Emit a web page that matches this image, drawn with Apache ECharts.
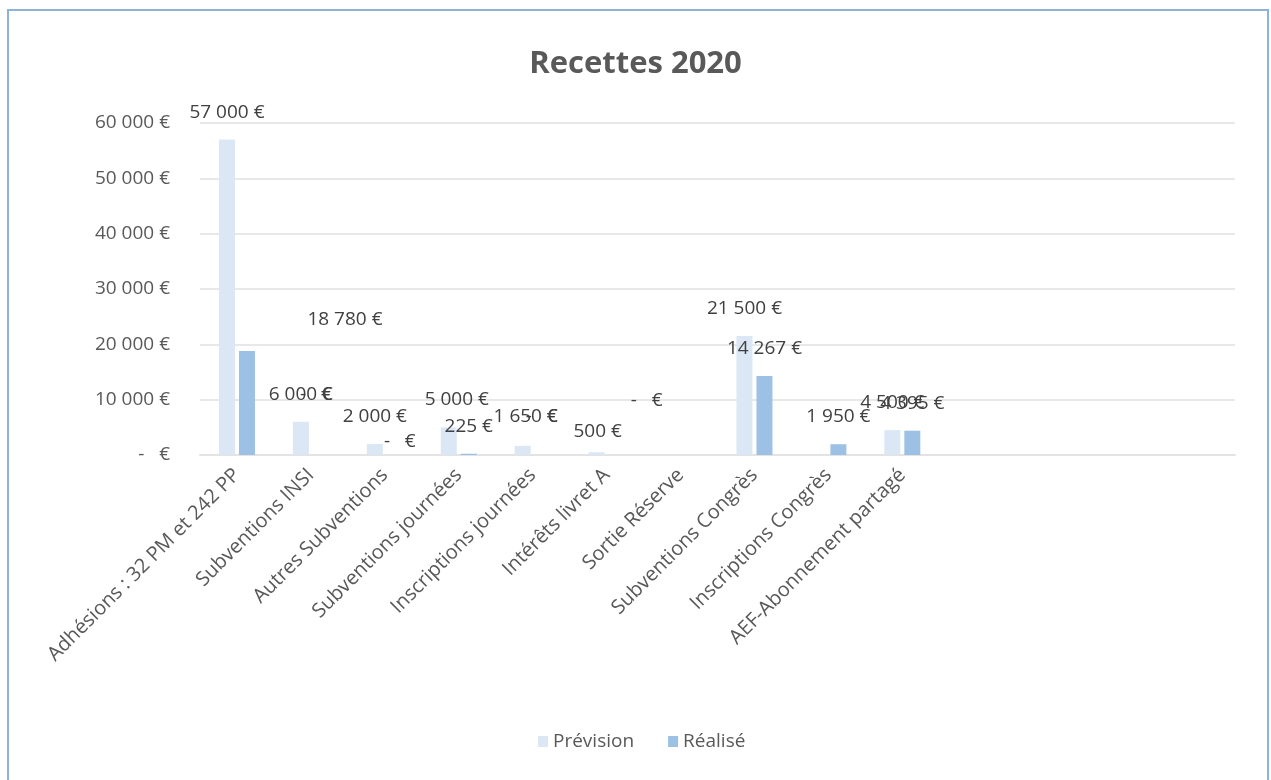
<!DOCTYPE html>
<html>
<head>
<meta charset="utf-8">
<title>Recettes 2020</title>
<script src="https://cdn.jsdelivr.net/npm/echarts@6/dist/echarts.min.js"></script>
<style>
  html, body { margin: 0; padding: 0; background: #fff; }
  #main { width: 1271px; height: 780px; }
</style>
</head>
<body>
<div id="main"></div>
<script>
// categories (the last four slots are empty in the original sheet)
const categories = [
  "Adhésions : 32 PM et 242 PP",
  "Subventions INSI",
  "Autres Subventions",
  "Subventions journées",
  "Inscriptions journées",
  "Intérêts livret A",
  "Sortie Réserve",
  "Subventions Congrès",
  "Inscriptions Congrès",
  "AEF-Abonnement partagé",
  "", "", "", ""
];
const prevision = [57000, 6000, 2000, 5000, 1650, 500, null, 21500, null, 4500, null, null, null, null];
const realise = [18780, 0, 0, 225, 0, 0, null, 14267, 1950, 4395, null, null, null, null];
const yTicks = [0, 10000, 20000, 30000, 40000, 50000, 60000];

const FONT = "Open Sans";
const TXT = "#595959";

// "57 000 €" / "-   €"
function euro(v) {
  if (v === 0) return "-   €";
  return String(Math.round(v)).replace(/\B(?=(\d{3})+(?!\d))/g, " ") + " €";
}

// labels were dragged around by hand in the sheet
const shiftPrev = { 3: [8, 0], 4: [3, -2], 5: [1, 7] };
const shiftReal = { 0: [98, -4], 1: [-5, -33], 2: [5, 14], 4: [-1, -11], 5: [30, -27] };

function items(values, shifts) {
  return values.map(function (v, i) {
    if (!shifts[i]) return v;
    return { value: v, label: { offset: shifts[i] } };
  });
}

const chart = echarts.init(document.getElementById("main"));

const labelStyle = {
  show: true,
  position: "top",
  distance: 18,
  fontFamily: FONT,
  fontSize: 19,
  color: "#404040",
  formatter: function (p) { return euro(p.value); }
};

const option = {
  animation: false,
  textStyle: { fontFamily: FONT },
  title: {
    text: "Recettes 2020",
    left: "center",
    top: 44,
    textStyle: { fontFamily: FONT, fontSize: 31, fontWeight: "bold", color: TXT }
  },
  legend: {
    left: 533,
    top: 727,
    itemWidth: 10,
    itemHeight: 11,
    itemGap: 34,
    icon: "rect",
    textStyle: { fontFamily: FONT, fontSize: 19, color: TXT },
    data: ["Prévision", "Réalisé"]
  },
  grid: { left: 200, right: 36, top: 123, bottom: 325 },
  xAxis: {
    type: "category",
    data: categories,
    axisTick: { show: false },
    axisLine: { lineStyle: { color: "#e3e3e3", width: 2 } },
    axisLabel: {
      interval: 0,
      rotate: 45,
      margin: 17,
      fontFamily: FONT,
      fontSize: 20,
      color: TXT
    }
  },
  yAxis: {
    type: "value",
    min: yTicks[0],
    max: yTicks[yTicks.length - 1],
    interval: 10000,
    axisLine: { show: false },
    axisTick: { show: false },
    splitLine: { lineStyle: { color: "#e8e8e8", width: 2 } },
    axisLabel: {
      margin: 30,
      fontFamily: FONT,
      fontSize: 19,
      color: TXT,
      formatter: euro
    }
  },
  series: [
    {
      name: "Prévision",
      type: "bar",
      barWidth: 16,
      barGap: "25%",
      itemStyle: { color: "#dbe7f5" },
      label: labelStyle,
      data: items(prevision, shiftPrev)
    },
    {
      name: "Réalisé",
      type: "bar",
      barWidth: 16,
      itemStyle: { color: "#9dc0e5" },
      label: labelStyle,
      data: items(realise, shiftReal)
    }
  ],
  graphic: [
    {
      type: "rect",
      shape: { x: 8, y: 10, width: 1260, height: 800 },
      style: { fill: null, stroke: "#8fb3d8", lineWidth: 2 },
      silent: true
    }
  ]
};

chart.setOption(option);
</script>
</body>
</html>
